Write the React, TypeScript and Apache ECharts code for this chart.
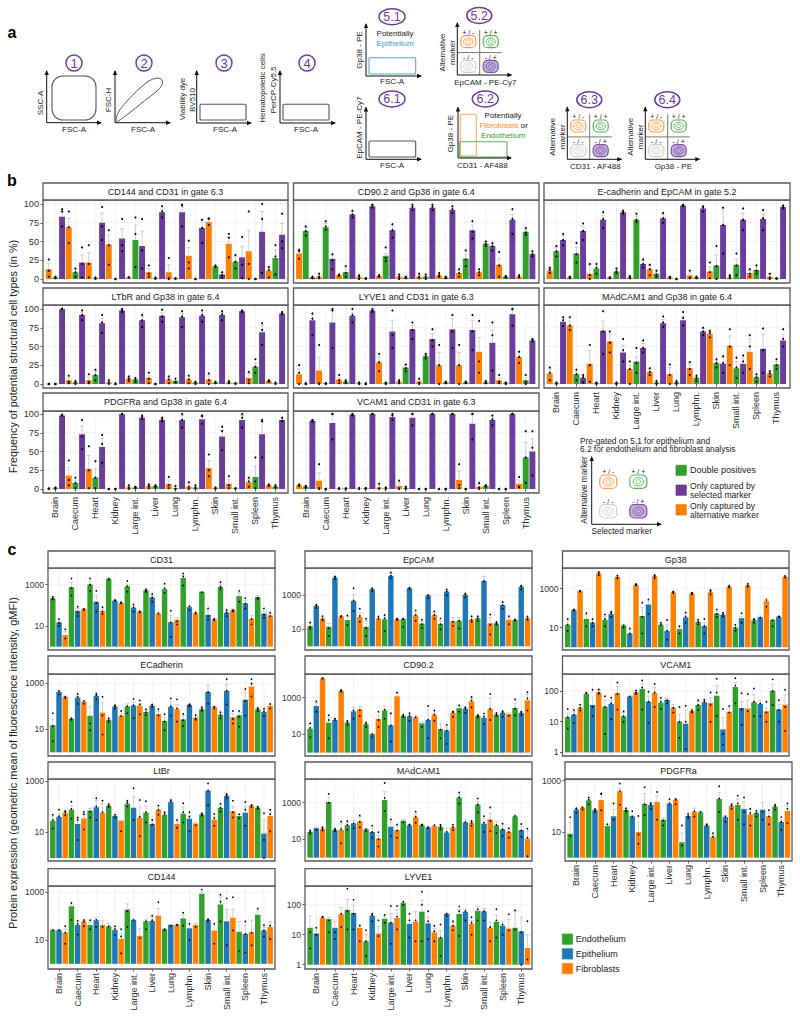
import React, { useEffect, useRef } from "react";
import * as echarts from "echarts";

const categories = ["Brain", "Caecum", "Heart", "Kidney", "Large int.", "Liver", "Lung", "Lymphn.", "Skin", "Small int.", "Spleen", "Thymus"];
const bSeriesNames = ["Only captured by alternative marker", "Double positives", "Only captured by selected marker"];
const cSeriesNames = ["Endothelium", "Epithelium", "Fibroblasts"];
const PURPLE = "#6A3D9A", GREEN = "#33A02C", ORANGE = "#FF7F00", BLUE = "#1F78B4";

// ---- panel b: per tissue, alternative / double / selected (in %)
const cd144Vals = [13,2,83, 69,9,22, 22,1,75, 46,0,54, 2,52,44, 9,1,89, 9,1,89, 31,0,68, 76,17,6, 47,23,29, 37,0,63, 11,28,59];
const cd144Err = [21,3,90, 81,13,32, 35,2,88, 59,0,67, 2,72,64, 14,2,93, 19,1,96, 42,0,78, 80,17,9, 56,30,43, 65,0,90, 15,39,74];
const cd144Hi = [26,3,93, 90,14,42, 45,2,96, 65,0,80, 2,82,80, 18,2,97, 28,1,99, 51,0,79, 81,18,9, 60,32,56, 90,0,100, 16,45,87];
const cd144Mid = [11,2,90, 69,9,20, 20,1,70, 45,0,45, 2,60,38, 7,1,90, 1,1,98, 22,0,68, 80,16,5, 55,23,19, 20,0,80, 12,30,50];
const cd144Lo = [3,1,70, 48,3,2, 2,0,52, 19,0,37, 2,16,14, 3,0,82, 0,0,70, 14,0,48, 72,16,2, 29,14,1, 0,0,8, 2,6,41];

const cd90Vals = [34,64,2, 3,69,27, 5,9,86, 3,1,97, 4,31,65, 3,2,95, 3,3,95, 5,2,92, 8,27,65, 9,47,44, 19,3,79, 3,63,33];
const cd90Err = [38,69,2, 5,74,32, 6,13,90, 4,1,99, 5,34,71, 5,3,97, 5,4,97, 7,3,95, 11,33,72, 11,50,47, 28,3,86, 4,66,35];
const cd90Hi = [39,70,3, 7,77,33, 6,17,91, 5,1,99, 5,42,73, 6,3,99, 7,6,99, 8,3,97, 13,38,77, 13,50,48, 36,4,93, 5,68,37];
const cd90Mid = [37,64,2, 3,70,25, 5,8,86, 3,1,98, 4,28,65, 3,2,96, 3,3,96, 5,2,93, 8,26,63, 9,47,44, 18,3,80, 3,62,33];
const cd90Lo = [27,58,1, 1,66,13, 4,3,82, 0,0,95, 3,24,55, 0,1,92, 1,0,92, 3,1,88, 3,17,54, 5,44,38, 3,2,60, 2,59,30];

const ecadVals = [11,37,52, 2,34,64, 7,14,79, 2,10,89, 2,79,20, 13,7,81, 2,0,98, 5,2,94, 10,18,72, 2,19,79, 8,12,80, 3,1,96];
const ecadErr = [14,42,58, 3,42,70, 19,18,85, 2,12,91, 3,84,24, 18,9,86, 3,0,99, 8,3,96, 16,32,93, 4,27,88, 11,15,86, 7,1,98];
const ecadHi = [15,44,60, 3,48,74, 20,20,89, 2,14,91, 4,87,26, 19,11,88, 3,0,99, 11,3,97, 22,44,95, 5,34,94, 13,18,92, 7,1,98];
const ecadMid = [12,37,52, 2,33,64, 5,15,80, 2,10,89, 2,79,20, 13,6,81, 2,0,98, 2,2,95, 9,17,72, 3,18,79, 7,11,81, 2,1,96];
const ecadLo = [8,30,45, 1,22,52, 0,7,68, 1,8,87, 1,76,15, 5,3,75, 1,0,97, 1,1,90, 1,0,34, 1,5,65, 3,7,65, 0,0,94];

const ltbrVals = [0,0,100, 5,2,92, 5,12,81, 2,0,98, 7,6,85, 8,0,91, 6,4,89, 6,2,91, 6,2,92, 2,1,97, 8,23,69, 4,1,94];
const ltbrErr = [0,0,100, 8,3,95, 9,17,88, 3,0,99, 9,7,90, 11,0,95, 8,5,94, 8,2,95, 11,2,95, 3,1,98, 14,28,78, 5,1,95];
const ltbrHi = [0,0,100, 11,4,98, 13,19,92, 5,1,100, 10,8,92, 15,0,99, 10,7,97, 11,3,98, 14,3,97, 4,1,98, 16,33,81, 5,2,96];
const ltbrMid = [0,0,100, 3,2,92, 3,12,82, 2,0,98, 7,6,85, 7,0,90, 6,3,90, 6,2,92, 5,2,93, 2,1,97, 5,23,72, 4,1,94];
const ltbrLo = [0,0,100, 1,0,85, 1,5,68, 0,0,96, 4,3,76, 1,0,83, 1,2,76, 1,0,83, 0,1,85, 1,0,96, 1,15,52, 3,0,93];

const lyveVals = [13,0,85, 18,1,82, 6,3,91, 1,0,98, 29,1,70, 3,22,73, 3,37,60, 25,2,73, 25,2,72, 43,2,55, 5,1,93, 36,5,58];
const lyveErr = [20,0,92, 35,1,98, 8,4,95, 2,0,99, 36,2,85, 4,25,78, 5,40,67, 42,3,87, 42,3,85, 62,3,72, 8,2,98, 43,8,59];
const lyveHi = [25,1,94, 52,1,100, 12,5,100, 2,1,100, 40,2,98, 5,26,82, 7,40,73, 52,3,92, 52,3,92, 84,4,82, 12,2,100, 43,12,60];
const lyveMid = [15,0,87, 0,1,98, 5,3,92, 1,0,98, 29,1,65, 3,21,72, 2,37,58, 25,2,70, 25,2,70, 30,2,65, 3,1,100, 36,3,59];
const lyveLo = [0,0,65, 1,0,48, 1,1,82, 0,0,96, 17,0,48, 1,17,60, 0,34,50, 0,1,48, 0,1,45, 15,1,18, 1,0,78, 28,0,57];

const madVals = [14,1,83, 78,13,8, 27,1,71, 57,1,42, 20,30,48, 16,2,81, 13,2,85, 21,8,70, 67,28,27, 51,21,27, 43,9,47, 14,26,58];
const madErr = [20,1,88, 84,16,11, 45,2,84, 67,2,52, 25,36,54, 19,3,86, 22,3,90, 26,10,74, 70,32,35, 64,30,35, 60,11,66, 15,30,66];
const madHi = [22,2,89, 89,19,12, 52,2,97, 70,2,60, 30,48,58, 21,4,90, 26,4,96, 29,11,75, 71,33,37, 73,35,38, 65,13,74, 17,33,73];
const madMid = [15,1,85, 78,13,9, 25,1,70, 55,0,45, 20,28,48, 16,1,82, 12,2,88, 20,8,70, 68,28,28, 50,22,30, 50,9,45, 14,25,60];
const madLo = [5,0,77, 72,5,2, 3,0,40, 42,0,30, 0,15,42, 12,0,76, 0,0,78, 12,4,65, 62,22,15, 25,8,15, 20,3,15, 10,20,50];

const pdgfVals = [0,1,98, 18,8,73, 27,15,56, 0,0,100, 2,2,95, 4,4,92, 7,1,92, 3,2,93, 28,1,70, 7,1,92, 9,16,73, 5,3,92];
const pdgfErr = [0,2,99, 29,11,84, 45,27,68, 0,0,100, 4,3,97, 6,5,94, 12,3,98, 7,3,97, 38,2,78, 13,1,98, 13,31,90, 6,4,94];
const pdgfHi = [1,2,99, 38,15,92, 57,37,72, 0,0,100, 5,3,98, 6,5,95, 16,4,100, 9,5,98, 46,2,83, 17,1,100, 15,42,92, 6,5,95];
const pdgfMid = [0,1,98, 12,8,70, 25,15,60, 0,0,100, 2,2,96, 4,4,93, 5,0,92, 3,2,97, 25,1,77, 5,1,95, 10,10,90, 5,3,91];
const pdgfLo = [0,0,98, 5,1,53, 1,1,35, 0,0,100, 0,1,93, 1,2,90, 1,0,82, 0,0,87, 17,0,52, 1,0,82, 3,1,42, 4,2,90];

const vcamBVals = [5,3,91, 11,0,88, 1,1,99, 1,1,100, 2,1,96, 4,1,95, 0,0,100, 0,0,100, 12,0,87, 3,4,92, 0,0,100, 7,42,50];
const vcamBErr = [6,3,92, 22,0,99, 1,1,100, 1,1,100, 5,1,99, 8,3,99, 0,0,100, 0,0,100, 24,0,99, 6,5,97, 0,0,100, 12,62,67];
const vcamBHi = [6,4,92, 33,0,100, 1,1,100, 1,1,100, 7,2,100, 11,3,100, 0,0,100, 0,0,100, 33,0,100, 8,5,98, 0,0,100, 16,77,77];
const vcamBMid = [5,3,91, 1,0,100, 1,0,99, 1,1,100, 1,1,98, 1,1,100, 0,0,100, 0,0,100, 5,0,100, 2,4,93, 0,0,100, 3,42,55];
const vcamBLo = [4,2,90, 0,0,66, 0,0,98, 0,0,100, 0,0,92, 0,0,85, 0,0,100, 0,0,100, 1,0,66, 0,3,85, 0,0,100, 2,8,18];

// ---- panel c: per tissue, endothelium / epithelium / fibroblasts (gMFI)
const cd31Vals = [220,15,3.7, 750,55,66, 1000,150,53, 1900,170,130, 830,77,50, 530,240,40, 600,15,20, 2100,83,42, 460,35,21, 770,44,60, 280,125,22, 250,40,33];
const cd31Err = [240,18,5.3, 1300,70,70, 1500,300,65, 2200,175,135, 1050,90,55, 570,300,47, 750,33,24, 2800,85,43, 470,55,22, 1000,52,65, 400,170,32, 300,50,38];
const cd31Hi = [260,22,7, 2000,85,72, 2000,500,80, 2800,175,140, 1500,110,58, 600,350,58, 1100,55,28, 3500,90,45, 480,70,22, 1300,60,72, 500,220,42, 420,70,44];
const cd31Mid = [210,14,3.2, 700,45,66, 1000,130,50, 1900,170,130, 850,80,50, 530,240,40, 650,15,17, 2500,88,42, 470,30,21, 800,45,60, 280,120,22, 230,35,30];
const cd31Lo = [190,10,2.5, 300,30,60, 500,50,38, 1800,170,125, 450,50,45, 450,150,28, 400,3,12, 900,60,40, 430,20,19, 600,30,50, 150,70,12, 200,25,28];

const epcamVals = [15,235,42, 14,11000,58, 35,465,53, 14,2250,42, 39,14000,39, 40,2600,67, 22,1000,70, 21,1650,30, 32,1050,37, 44,7000,23, 22,270,37, 35,3100,44];
const epcamErr = [24,260,50, 22,12500,60, 55,1100,95, 32,2500,46, 62,20000,42, 42,2700,100, 30,1100,90, 33,2000,50, 50,1250,50, 55,13000,50, 26,370,50, 37,3500,48];
const epcamHi = [25,280,58, 30,13000,62, 65,2600,160, 42,2500,56, 70,22000,42, 42,2800,130, 36,1150,110, 44,2200,62, 62,1300,58, 58,15000,75, 27,400,58, 38,3700,56];
const epcamMid = [14,250,40, 12,12000,60, 30,500,60, 12,2400,42, 45,14000,38, 40,2700,70, 20,1000,70, 20,1700,28, 32,1100,36, 45,7000,18, 22,260,35, 35,3300,42];
const epcamLo = [11,180,33, 4,9000,55, 18,120,28, 4,1800,30, 8,10000,36, 14,2300,32, 12,700,42, 10,1000,16, 11,750,28, 32,3500,5, 19,160,20, 33,2200,36];

const gp38Vals = [14,80,750, 28,18,5900, 25,50,4000, 13,5,1600, 40,156,4300, 14,6.7,650, 8.5,34,570, 20,12,650, 54,46,1260, 10,31,1480, 24,34,230, 25,37,4100];
const gp38Err = [22,85,760, 45,25,6800, 38,60,4400, 15,7.5,1700, 110,220,4800, 16,14,700, 11,55,600, 24,18,800, 70,52,1350, 12,38,1600, 27,40,320, 27,38,4300];
const gp38Hi = [28,85,780, 55,28,7200, 48,65,4800, 17,9,1750, 190,280,5000, 18,25,720, 12,60,620, 26,28,850, 85,58,1400, 14,55,1800, 28,42,420, 30,38,4500];
const gp38Mid = [14,80,750, 30,18,6200, 28,55,3800, 13,5,1600, 35,170,4400, 14,7,650, 8,38,580, 20,12,700, 50,48,1250, 10,30,1400, 25,32,260, 24,37,4200];
const gp38Lo = [7,75,720, 12,12,5000, 12,35,3400, 10,3,1500, 5,50,3500, 11,2.5,600, 5,18,520, 15,5,500, 35,38,1150, 7,18,1250, 18,30,120, 12,36,3700];

const ecadCVals = [15,420,260, 28,240,155, 39,280,53, 25,97,39, 97,107,107, 57,107,46, 23,94,74, 27,114,31, 74,420,94, 42,465,34, 41,195,720, 74,57,103];
const ecadCErr = [28,460,280, 29,280,165, 95,310,140, 27,105,50, 130,150,130, 70,115,60, 35,150,120, 38,120,36, 85,850,100, 50,900,48, 55,460,1100, 80,70,115];
const ecadCHi = [50,540,290, 30,340,170, 160,350,260, 30,110,62, 160,210,180, 75,120,75, 45,220,200, 46,122,42, 90,1450,105, 55,1500,62, 62,560,1500, 85,78,125];
const ecadCMid = [14,460,260, 28,260,160, 18,300,40, 25,100,38, 100,110,120, 55,110,40, 22,100,80, 25,118,30, 75,420,95, 42,480,28, 35,170,950, 75,60,105];
const ecadCLo = [3,330,230, 26,130,130, 9,200,6, 21,80,24, 50,30,45, 42,90,24, 9,40,22, 14,100,26, 62,130,80, 30,120,18, 13,40,270, 62,38,80];

const cd90Vals2 = [20,350,11300, 43,60,2400, 43,180,230, 35,10,70, 200,31,1200, 100,95,85, 40,60,118, 19,16,150, 270,250,630, 100,80,240, 118,150,130, 270,145,720];
const cd90Err2 = [38,500,11800, 85,70,2500, 50,300,330, 40,11,110, 350,120,1800, 110,115,105, 48,220,160, 40,24,170, 330,280,900, 110,105,950, 130,170,150, 500,160,1500];
const cd90Hi2 = [40,620,12000, 110,72,2600, 55,420,420, 44,13,170, 520,140,1900, 118,140,125, 52,350,200, 52,32,175, 380,300,1100, 115,135,1600, 145,185,165, 800,170,2000];
const cd90Mid2 = [22,420,11000, 60,60,2500, 45,200,210, 35,10,60, 220,30,1300, 100,100,85, 42,62,120, 18,16,160, 270,260,700, 100,90,250, 118,160,130, 260,150,900];
const cd90Lo2 = [7,170,10500, 6,50,2100, 32,70,100, 25,7,25, 70,4,500, 85,55,50, 25,6,55, 6,3,90, 170,150,300, 85,35,60, 100,90,100, 110,110,200];

const vcamCVals = [14,17,29, 80,35,90, 31,38,86, 15,67,90, 116,45,86, 42,51,29, 10,8.6,22, 35,43,41, 70,5.6,21, 135,28,27, 43,38,22, 100,25,36];
const vcamCErr = [19,21,35, 85,60,110, 50,50,140, 20,68,100, 170,65,130, 55,60,37, 18,23,23, 45,50,60, 150,13.5,27, 190,45,50, 75,50,28, 170,37,75];
const vcamCHi = [26,24,36, 88,110,112, 68,60,190, 22,70,105, 220,95,170, 60,65,42, 30,33,24, 50,52,90, 250,26,32, 260,85,80, 120,65,45, 240,50,110];
const vcamCMid = [14,17,28, 85,30,88, 30,40,80, 15,66,90, 130,45,90, 45,50,28, 10,10,21, 35,45,35, 90,4,20, 150,25,22, 45,40,20, 100,24,30];
const vcamCLo = [6,9,23, 70,15,82, 4,12,25, 10,65,80, 25,9,30, 26,40,20, 3,1.3,20, 24,34,10, 15,1.8,16, 40,8,7, 15,15,10, 35,10,5];

const ltbrCVals = [28,40,58, 76,21,35, 70,94,57, 106,43,28, 130,91,37, 57,21,75, 47,150,21, 53,34,22, 49,407,31, 89,260,66, 43,58,106, 89,9,43];
const ltbrCErr = [43,55,65, 110,35,50, 85,170,130, 115,46,30, 155,240,95, 105,24,95, 55,165,26, 95,44,24, 52,430,42, 115,280,100, 50,100,110, 95,30,58];
const ltbrCHi = [48,75,68, 155,38,62, 120,210,170, 125,48,32, 170,520,180, 160,30,110, 60,180,30, 135,60,25, 55,800,52, 130,310,170, 50,150,115, 98,55,75];
const ltbrCMid = [30,42,60, 80,30,50, 65,100,60, 110,45,28, 140,120,40, 60,20,75, 50,160,22, 60,40,22, 50,420,35, 90,270,60, 45,75,110, 90,5,50];
const ltbrCLo = [14,12,46, 34,5,13, 38,30,12, 96,38,11, 100,30,7, 24,12,48, 32,120,15, 24,11,19, 44,110,18, 65,210,38, 35,18,95, 82,1,11];

const madCVals = [25,41,37, 1090,32,32, 58,74,96, 35,25,11, 1400,49,32, 104,58,160, 60,45,53, 47,23,45, 1900,85,78, 780,72,123, 58,35,25, 180,32,11];
const madCErr = [28,48,42, 2000,36,75, 80,105,170, 40,40,17, 4000,85,55, 120,62,220, 62,48,55, 55,40,55, 2800,110,90, 1200,130,260, 100,55,32, 220,52,27];
const madCHi = [30,52,45, 3000,38,95, 100,130,200, 42,55,24, 12000,120,65, 130,64,320, 65,50,58, 62,50,62, 3600,125,100, 1700,180,550, 130,70,40, 270,68,38];
const madCMid = [25,42,38, 1000,32,35, 60,75,90, 36,25,10, 1800,50,30, 105,58,170, 60,45,52, 48,25,45, 2000,85,80, 800,80,100, 60,35,25, 190,30,12];
const madCLo = [20,32,30, 500,28,6, 33,40,45, 28,12,4, 350,15,12, 85,52,80, 58,40,50, 35,5,32, 900,50,55, 300,25,28, 22,15,12, 130,14,1.2];

const pdgfCVals = [8.6,74,89, 170,70,175, 17,41,385, 72,41,10, 123,113,148, 30,127,175, 4,42,62, 58,17.6,6.4, 192,38,103, 113,79,49, 55,74,41, 97,24.5,66];
const pdgfCErr = [23,82,100, 195,75,300, 19,75,520, 80,42,24, 310,125,260, 35,150,185, 9,48,85, 62,19,7.5, 350,44,112, 190,150,75, 62,140,55, 105,30,105];
const pdgfCHi = [38,85,110, 220,78,320, 20,130,780, 85,65,42, 550,135,360, 48,190,195, 18,52,110, 110,20,9, 600,50,120, 260,220,80, 68,330,70, 115,38,130];
const pdgfCMid = [7,78,90, 180,72,300, 16,30,400, 70,40,8, 120,115,160, 28,130,180, 3,42,65, 60,18,6.5, 200,40,105, 130,60,55, 55,60,40, 100,25,80];
const pdgfCLo = [1.5,55,75, 120,60,70, 15,11,115, 62,15,3.5, 45,80,30, 18,50,120, 1.5,35,40, 34,15,5, 60,25,80, 30,20,18, 40,30,20, 75,12,22];

const cd144CVals = [26,26,20, 260,43,59, 43,67,43, 37,26,11, 190,69,15, 61,63,105, 28,43,44, 81,31,43, 880,69,25, 310,61,87, 22,18,21, 115,25,35];
const cd144CErr = [28,28,29, 300,60,65, 55,85,65, 50,32,18, 330,75,30, 75,85,210, 30,45,46, 110,42,50, 1050,72,42, 650,190,200, 60,40,65, 180,34,60];
const cd144CHi = [30,30,38, 360,65,70, 68,100,85, 55,38,28, 520,85,85, 90,105,380, 30,45,46, 140,48,52, 1300,75,48, 800,550,620, 120,60,90, 210,42,85];
const cd144CMid = [26,26,20, 300,48,60, 45,70,35, 38,28,14, 160,70,12, 62,68,100, 28,43,44, 85,30,45, 950,68,22, 400,45,90, 15,18,20, 120,25,40];
const cd144CLo = [22,22,7, 70,17,38, 28,35,32, 22,16,2.8, 35,55,5, 28,30,22, 26,40,42, 40,10,35, 500,62,7, 60,6,25, 3.5,3,6, 80,14,11];

const lyveCVals = [17,11,37, 33,17,48, 68,53,17, 6,43,11, 34,25,36, 113,23,27, 59,24,12, 8,50,20, 49,58,23, 63,60,17, 27,20,16, 17,13,3.6];
const lyveCErr = [42,14,39, 38,28,80, 150,95,22, 10,46,19, 42,50,70, 120,34,60, 140,38,16, 14,52,25, 72,70,30, 90,75,26, 45,28,32, 60,38,10];
const lyveCHi = [95,17,40, 62,85,115, 340,145,32, 14,50,30, 45,90,90, 125,50,62, 270,60,20, 22,53,28, 88,85,38, 120,85,35, 70,35,48, 65,85,28];
const lyveCMid = [12,10,38, 30,12,50, 60,50,20, 6,45,9, 35,25,40, 115,30,30, 100,28,13, 8,50,20, 60,60,25, 70,60,18, 30,22,14, 15,12,1.5];
const lyveCLo = [3.5,4,32, 12,7,18, 15,15,6, 2,28,4, 25,5,15, 100,8,6, 6,7,6, 2,42,14, 9,30,10, 30,30,6, 8,10,4.5, 1.2,1,1.1];

const bTicks = [0, 25, 50, 75, 100];
const bMinor = [12.5, 37.5, 62.5, 87.5];
const font = "'Liberation Sans', Arial, sans-serif";
const LABEL = "#333333";

type AnyObj = Record<string, any>;
const grids: AnyObj[] = [], xAxes: AnyObj[] = [], yAxes: AnyObj[] = [], series: AnyObj[] = [], gfx: AnyObj[] = [];

const gridItem = (pad: number) => (params: any, api: any) => {
  const cs = params.coordSys;
  const kind = api.value(2);
  if (kind === 2) {
    const x = api.coord([api.value(0), api.value(1)])[0];
    return { type: "line", silent: true, shape: { x1: x, y1: cs.y, x2: x, y2: cs.y + cs.height }, style: { stroke: "#ececec", lineWidth: 0.7 } };
  }
  const y = api.coord([0, api.value(1)])[1];
  return { type: "line", silent: true, shape: { x1: cs.x - pad, y1: y, x2: cs.x + cs.width + pad, y2: y }, style: { stroke: kind === 1 ? "#ececec" : "#f5f5f5", lineWidth: kind === 1 ? 0.7 : 0.5 } };
};

function txt(text: string, x: number, y: number, size: number, o: AnyObj = {}) {
  gfx.push({
    type: "text", x, y, rotation: o.rot ? Math.PI / 2 : 0, silent: true, z: 50,
    style: { text, font: `${o.bold ? "bold " : ""}${size}px ${font}`, fill: o.fill || "#222", textAlign: o.align || "center", textVerticalAlign: "middle", align: o.align || "center", verticalAlign: "middle" },
  });
}
function rectG(x: number, y: number, w: number, h: number, stroke: string, fill = "none", lw = 1, r = 0, z = 40) {
  gfx.push({ type: "rect", silent: true, z, shape: { x, y, width: w, height: h, r }, style: { stroke, fill, lineWidth: lw } });
}

type PanelOpt = {
  title: string; vals: number[]; err: number[]; hi: number[]; mid: number[]; lo: number[];
  names: string[]; colors: string[]; panel: [number, number, number, number, number]; // left,right,stripTop,stripBottom,bottom
  plotLeft: number; step: number; barW: number; log: boolean;
  yMin: number; yMax: number; ticks: number[]; minor: number[];
  showY: boolean; showX: boolean; labelSize: number; yLabelSize: number; dotR: number;
};

function addPanel(p: PanelOpt) {
  const idx = grids.length;
  const [l, r, st, sb, bot] = p.panel;
  const plotW = p.step * 36;
  grids.push({ left: p.plotLeft, width: plotW, top: sb, height: bot - sb, containLabel: false });
  xAxes.push({
    type: "category", gridIndex: idx, data: categories, boundaryGap: true,
    axisLine: { show: false },
    axisTick: { show: p.showX, alignWithLabel: true, length: 2.5, lineStyle: { color: LABEL, width: 0.8 } },
    axisLabel: { show: p.showX, interval: 0, rotate: 90, fontFamily: font, fontSize: p.labelSize, color: LABEL, margin: 4 },
    splitLine: { show: false },
  });
  yAxes.push({
    type: p.log ? "log" : "value", logBase: 10, gridIndex: idx, min: p.yMin, max: p.yMax,
    offset: p.plotLeft - l, axisLine: { show: false },
    axisTick: { show: p.showY, customValues: p.ticks, length: 2.5, lineStyle: { color: LABEL, width: 0.8 } },
    axisLabel: { show: p.showY, customValues: p.ticks, fontFamily: font, fontSize: p.yLabelSize, color: LABEL, margin: 4, formatter: (v: number) => String(Math.round(v)) },
    splitLine: { show: false }, minorSplitLine: { show: false },
  });
  const pad = Math.max(p.plotLeft - l, r - p.plotLeft - plotW);
  const gridData: number[][] = [];
  p.ticks.forEach((v) => gridData.push([0, v, 1]));
  p.minor.forEach((v) => gridData.push([0, v, 0]));
  categories.forEach((_, i) => gridData.push([i, p.ticks[0], 2]));
  series.push({ type: "custom", name: "grid", xAxisIndex: idx, yAxisIndex: idx, silent: true, z: 0, clip: false, data: gridData, renderItem: gridItem(pad) });
  [0, 1, 2].forEach((k) => {
    series.push({
      type: "bar", name: p.names[k], xAxisIndex: idx, yAxisIndex: idx, z: 2, silent: true,
      barWidth: p.barW, barGap: `${((p.step - p.barW) / p.barW) * 100}%`,
      itemStyle: { color: p.colors[k] },
      data: categories.map((_, i) => p.vals[i * 3 + k]),
    });
  });
  const items: number[][] = [];
  p.vals.forEach((v, j) => items.push([Math.floor(j / 3), v, j % 3, p.err[j]]));
  series.push({
    type: "custom", name: "error", xAxisIndex: idx, yAxisIndex: idx, silent: true, z: 3, clip: false, data: items,
    renderItem: (_: any, api: any) => {
      const cat = api.value(0), k = api.value(2);
      const a = api.coord([cat, api.value(1)]), b = api.coord([cat, api.value(3)]);
      const x = a[0] + (k - 1) * p.step;
      const st2 = { stroke: "#c9c9c9", lineWidth: 0.9 };
      return { type: "group", children: [
        { type: "line", shape: { x1: x, y1: a[1], x2: x, y2: b[1] }, style: st2 },
        { type: "line", shape: { x1: x - 2, y1: b[1], x2: x + 2, y2: b[1] }, style: st2 },
      ] };
    },
  });
  const dots: number[][] = [];
  [p.hi, p.mid, p.lo].forEach((arr) => arr.forEach((v, j) => dots.push([Math.floor(j / 3), v, j % 3])));
  series.push({
    type: "custom", name: "dots", xAxisIndex: idx, yAxisIndex: idx, silent: true, z: 4, clip: false, data: dots,
    renderItem: (_: any, api: any) => {
      const c = api.coord([api.value(0), api.value(1)]);
      return { type: "circle", shape: { cx: c[0] + (api.value(2) - 1) * p.step, cy: c[1], r: p.dotR }, style: { fill: "#000" } };
    },
  });
  rectG(l, sb, r - l, bot - sb, "#5a5a5a", "none", 1.3);
  rectG(l, st, r - l, sb - st, "#5a5a5a", "#fff", 1.3);
  txt(p.title, (l + r) / 2, (st + sb) / 2, 9);
}

// panel b layout
const bCols: [number, number, number][] = [[43, 288, 45.4], [293.5, 539, 295.7], [544, 790, 546.4]];
const bRows: [number, number, number, number][] = [[183, 200, 204, 279], [288, 305, 309, 384], [393, 411, 414, 489]];
const bPanels: [string, number[], number[], number[], number[], number[], number, number][] = [
  ["CD144 and CD31 in gate 6.3", cd144Vals, cd144Err, cd144Hi, cd144Mid, cd144Lo, 0, 0],
  ["CD90.2 and Gp38 in gate 6.4", cd90Vals, cd90Err, cd90Hi, cd90Mid, cd90Lo, 1, 0],
  ["E-cadherin and EpCAM in gate 5.2", ecadVals, ecadErr, ecadHi, ecadMid, ecadLo, 2, 0],
  ["LTbR and Gp38 in gate 6.4", ltbrVals, ltbrErr, ltbrHi, ltbrMid, ltbrLo, 0, 1],
  ["LYVE1 and CD31 in gate 6.3", lyveVals, lyveErr, lyveHi, lyveMid, lyveLo, 1, 1],
  ["MAdCAM1 and Gp38 in gate 6.4", madVals, madErr, madHi, madMid, madLo, 2, 1],
  ["PDGFRa and Gp38 in gate 6.4", pdgfVals, pdgfErr, pdgfHi, pdgfMid, pdgfLo, 0, 2],
  ["VCAM1 and CD31 in gate 6.3", vcamBVals, vcamBErr, vcamBHi, vcamBMid, vcamBLo, 1, 2],
];
bPanels.forEach(([title, vals, err, hi, mid, lo, c, rw]) => {
  const [l, r, pl] = bCols[c];
  const [st, sb, y100, y0] = bRows[rw];
  const ppu = (y0 - y100) / 100;
  addPanel({
    title, vals, err, hi, mid, lo, names: bSeriesNames, colors: [ORANGE, GREEN, PURPLE],
    panel: [l, r, st, sb, y0 + 4], plotLeft: pl, step: 6.667, barW: 5.95, log: false,
    yMin: -4 / ppu, yMax: (y0 - sb) / ppu, ticks: bTicks, minor: bMinor,
    showY: c === 0, showX: rw === 2 || (c === 2 && rw === 1), labelSize: 9, yLabelSize: 9.2, dotR: 1,
  });
});

// panel c layout: left,right,plotLeft / stripTop,stripBottom,bottom / y of 10, px per decade
const cPanels: [string, number[], number[], number[], number[], number[], number[], number, number, number, number, number, number, number][] = [
  ["CD31", cd31Vals, cd31Err, cd31Hi, cd31Mid, cd31Lo, [10, 1000], 48, 275, 49.7, 551, 568, 650, 626],
  ["EpCAM", epcamVals, epcamErr, epcamHi, epcamMid, epcamLo, [10, 1000], 305, 532, 307, 551, 568, 650, 629.3],
  ["Gp38", gp38Vals, gp38Err, gp38Hi, gp38Mid, gp38Lo, [10, 1000], 562.5, 789, 564.6, 551, 568, 650, 627.7],
  ["ECadherin", ecadCVals, ecadCErr, ecadCHi, ecadCMid, ecadCLo, [10, 1000], 48, 275, 49.7, 656, 674, 756, 729.3],
  ["CD90.2", cd90Vals2, cd90Err2, cd90Hi2, cd90Mid2, cd90Lo2, [10, 1000], 305, 532, 307, 656, 674, 756, 734.3],
  ["VCAM1", vcamCVals, vcamCErr, vcamCHi, vcamCMid, vcamCLo, [1, 10, 100], 562.5, 789, 564.6, 656, 674, 756, 721.7],
  ["LtBr", ltbrCVals, ltbrCErr, ltbrCHi, ltbrCMid, ltbrCLo, [10, 1000], 48, 275, 49.7, 762, 779, 861, 832.3],
  ["MAdCAM1", madCVals, madCErr, madCHi, madCMid, madCLo, [10, 1000], 305, 532, 307, 762, 779, 861, 839.3],
  ["PDGFRa", pdgfCVals, pdgfCErr, pdgfCHi, pdgfCMid, pdgfCLo, [10, 1000], 565, 792, 567, 762, 779, 861, 832],
  ["CD144", cd144CVals, cd144CErr, cd144CHi, cd144CMid, cd144CLo, [10, 1000], 48, 275, 49.7, 868.7, 886, 969, 940],
  ["LYVE1", lyveCVals, lyveCErr, lyveCHi, lyveCMid, lyveCLo, [1, 10, 100], 305, 532, 307, 868.7, 886, 969, 934.7],
];
const cDecade = [20.67, 17, 19.5, 23, 18.3, 30.67, 25.7, 18.3, 25.67, 23.83, 30];
cPanels.forEach(([title, vals, err, hi, mid, lo, ticks, l, r, pl, st, sb, bot, y10], i) => {
  const d = cDecade[i];
  const yMin = Math.pow(10, 1 + (y10 - bot) / d);
  const yMax = Math.pow(10, 1 + (y10 - sb) / d);
  const minor = ticks.length === 3 ? [3.16, 31.6] : [1, 100, 10000].filter((v) => v > yMin && v < yMax);
  addPanel({
    title, vals, err, hi, mid, lo, names: cSeriesNames, colors: [GREEN, BLUE, ORANGE],
    panel: [l, r, st, sb, bot], plotLeft: pl, step: 6.21, barW: 5.45, log: true,
    yMin, yMax, ticks, minor, showY: true, showX: i >= 8, labelSize: 9, yLabelSize: 8.6, dotR: 0.85,
  });
});

// ---- text & schematic parts
const arrowAxes = (x: number, y: number, top: number, right: number) => {
  gfx.push({ type: "polyline", silent: true, z: 41, shape: { points: [[x, top], [x, y], [right, y]] }, style: { stroke: "#111", fill: "none", lineWidth: 1 } });
  gfx.push({ type: "polygon", silent: true, z: 41, shape: { points: [[x - 2.2, top + 4], [x, top - 1], [x + 2.2, top + 4]] }, style: { fill: "#111" } });
  gfx.push({ type: "polygon", silent: true, z: 41, shape: { points: [[right - 4, y - 2.2], [right + 1, y], [right - 4, y + 2.2]] }, style: { fill: "#111" } });
};
const badge = (label: string, cx: number, cy: number, rx: number, ry: number) => {
  gfx.push({ type: "ellipse", silent: true, z: 41, shape: { cx, cy, rx, ry }, style: { stroke: PURPLE, fill: "#fff", lineWidth: 1.5 } });
  txt(label, cx, cy, label.length > 1 ? 12.5 : 13, { fill: PURPLE });
};
const blob = (cx: number, cy: number, color: string, rx = 7.5, ry = 6, fill = "none") => {
  rectG(cx - rx, cy - ry, rx * 2, ry * 2, color, fill, 1.2, 4.5, 41);
  gfx.push({ type: "ellipse", silent: true, z: 42, shape: { cx, cy, rx: rx * 0.62, ry: ry * 0.62 }, style: { stroke: color, fill: "none", lineWidth: 0.9 } });
  gfx.push({ type: "ellipse", silent: true, z: 42, shape: { cx, cy, rx: rx * 0.3, ry: ry * 0.3 }, style: { stroke: color, fill: "none", lineWidth: 0.8 } });
};
const quadrants = (ox: number, oy: number, yLabelGap: [number, number], xLabel: string, badgeLabel: string) => {
  arrowAxes(ox, oy, oy - 52, ox + 54);
  const vx = ox + 22.4, hy = oy - 22.4;
  gfx.push({ type: "line", silent: true, z: 40, shape: { x1: vx, y1: oy - 45, x2: vx, y2: oy }, style: { stroke: "#777", lineWidth: 1 } });
  gfx.push({ type: "line", silent: true, z: 40, shape: { x1: ox, y1: hy, x2: ox + 44.5, y2: hy }, style: { stroke: "#777", lineWidth: 1 } });
  const xa = ox + 11, xb = ox + 33.4, ya = oy - 33.3, yb = oy - 8.7;
  blob(xa, ya, "#FF9A3C"); blob(xb, ya, "#55B355"); blob(xa, yb, "#cfcfcf"); blob(xb, yb, "#7B52AB", 7.5, 6, "rgba(123,82,171,.45)");
  txt("+ / -", xa, oy - 42.7, 7); txt("+ / +", xb, oy - 42.7, 7); txt("- / -", xa, oy - 18, 7); txt("- / +", xb, oy - 18, 7);
  txt("Alternative", ox + yLabelGap[0], oy - 22.5, 8, { rot: true });
  txt("marker", ox + yLabelGap[1], oy - 22.5, 8, { rot: true });
  txt(xLabel, ox + 28, oy + 7, 8);
  badge(badgeLabel, ox + 22, oy - 59.5, 12.5, 8);
};

function buildSchematic() {
  txt("a", 12, 32.5, 16, { bold: true, fill: "#000" });
  txt("b", 12, 180, 16, { bold: true, fill: "#000" });
  txt("c", 12, 549, 16, { bold: true, fill: "#000" });
  txt("Frequency of potential structural cell types (in %)", 12.5, 356.5, 10.8, { rot: true });
  txt("Protein expression (geometric mean of fluorescence intensity, gMFI)", 12.5, 763, 11, { rot: true });

  // gates 1-4
  arrowAxes(46.7, 122.7, 71, 101);
  rectG(52, 76, 44, 44, "#555", "none", 1.1, 11);
  badge("1", 74, 63, 8, 8);
  txt("FSC-A", 74, 129.7, 8); txt("SSC-A", 40.7, 103, 8, { rot: true });
  arrowAxes(115, 122.7, 71, 170);
  gfx.push({ type: "polygon", silent: true, z: 41, shape: { points: [[116.5, 121.5], [118, 113], [128, 100], [146, 83], [155, 78.5], [161, 79], [162.5, 83.5], [158, 90], [143, 102], [128, 114]], smooth: 0.35 }, style: { stroke: "#555", fill: "none", lineWidth: 1 } });
  badge("2", 144, 63, 8, 8);
  txt("FSC-A", 143, 129.7, 8); txt("FSC-H", 108, 100, 8, { rot: true });
  arrowAxes(196.7, 123, 71, 251);
  rectG(200, 104.3, 46, 15.7, "#555", "none", 1.1, 1);
  badge("3", 224, 63, 8, 8);
  txt("FSC-A", 225, 129.7, 8); txt("Viability dye", 182, 99, 8, { rot: true }); txt("BV510", 192, 100, 8, { rot: true });
  arrowAxes(280, 123, 71, 335);
  rectG(283, 104.3, 46, 15.7, "#555", "none", 1.1, 1);
  badge("4", 307, 63, 8, 8);
  txt("FSC-A", 306, 129.7, 8); txt("Hematopoietic cells", 262, 88, 8, { rot: true }); txt("PerCP-Cy5.5", 273, 90, 8, { rot: true });

  // 5.1 / 6.1
  arrowAxes(366, 76, 24, 421);
  rectG(369, 57.7, 46.7, 16.3, "#5BA7D9", "none", 1.1, 1);
  badge("5.1", 392, 16.7, 13, 8);
  txt("Potentially", 395, 33, 8); txt("Epithelium", 395, 43.5, 8, { fill: "#3D97D3" });
  txt("FSC-A", 392, 81.7, 8); txt("Gp38 - PE", 359, 50, 8, { rot: true });
  arrowAxes(366, 159.3, 107.5, 421);
  rectG(369, 141, 46.7, 16, "#555", "none", 1.1, 1);
  badge("6.1", 392, 99, 13, 8);
  txt("FSC-A", 392, 165.5, 8); txt("EpCAM - PE-Cy7", 359, 127.7, 8, { rot: true });

  // 6.2
  arrowAxes(458, 158, 107.5, 511);
  rectG(460.3, 114.3, 16, 41.7, "#FFA95A", "none", 1.1, 1);
  rectG(459.7, 141.7, 47.3, 15.3, "#55B355", "none", 1.1, 1);
  badge("6.2", 485.3, 99, 13, 8);
  txt("Potentially", 503, 115.7, 8);
  txt("Fibroblasts", 518.5, 125.7, 8, { fill: "#FF8A1E", align: "right" });
  txt("or", 520.7, 125.7, 8, { align: "left" });
  txt("Endothelium", 503.3, 135.7, 8, { fill: "#33A02C" });
  txt("CD31 - AF488", 482.3, 165.7, 8); txt("Gp38 - PE", 450.7, 133.7, 8, { rot: true });

  quadrants(457.3, 75, [-15.3, -5], "EpCAM - PE-Cy7", "5.2");
  quadrants(567.3, 159.3, [-15, -4.6], "CD31 - AF488", "6.3");
  quadrants(645.3, 159.3, [-15.3, -5.3], "Gp38 - PE", "6.4");

  // legend b
  txt("Pre-gated on 5.1 for epithelium and", 580, 440.7, 8.3, { align: "left" });
  txt("6.2 for endothelium and fibroblast analysis", 580, 449, 8.3, { align: "left" });
  arrowAxes(591.7, 524.3, 457, 661);
  txt("Alternative marker", 584.3, 490, 8.3, { rot: true });
  txt("Selected marker", 621.7, 531, 8.3);
  blob(608.3, 481.7, "#FF9A3C", 8.5, 6.7); blob(638.3, 481.7, "#55B355", 8.5, 6.7);
  blob(608.3, 511.3, "#cfcfcf", 8.5, 6.7); blob(638.3, 511.3, "#7B52AB", 8.5, 6.7, "rgba(123,82,171,.45)");
  txt("+ / -", 608.3, 471.3, 7); txt("+ / +", 638.3, 471.3, 7); txt("- / -", 608.3, 501, 7); txt("- / +", 638.3, 501, 7);
  rectG(676, 465.3, 10.3, 10, "#2a8a25", GREEN, 0.7, 0, 41);
  rectG(676, 485, 10.3, 10.3, "#5a3187", PURPLE, 0.7, 0, 41);
  rectG(676, 504.7, 10.3, 10.3, "#e57200", ORANGE, 0.7, 0, 41);
  txt("Double positives", 690, 470.3, 9, { align: "left" });
  txt("Only captured by", 690, 486.3, 8.6, { align: "left" });
  txt("selected marker", 690, 494.6, 8.6, { align: "left" });
  txt("Only captured by", 690, 506.3, 8.6, { align: "left" });
  txt("alternative marker", 690, 514.7, 8.6, { align: "left" });

  // legend c
  [GREEN, BLUE, ORANGE].forEach((c, i) => {
    rectG(562.3, 934 + i * 14.7, 10.3, 10.3, c, c, 0.7, 0, 41);
    txt(cSeriesNames[i], 575.7, 939 + i * 14.8, 9, { align: "left" });
  });
}
buildSchematic();

export default function App() {
  const ref = useRef<HTMLDivElement>(null);
  useEffect(() => {
    document.body.style.margin = "0";
    const chart = echarts.init(ref.current!, undefined, { renderer: "svg" });
    chart.setOption({
      animation: false, backgroundColor: "#fff", textStyle: { fontFamily: font },
      grid: grids, xAxis: xAxes, yAxis: yAxes, series, graphic: { elements: gfx },
    });
    return () => chart.dispose();
  }, []);
  return <div ref={ref} style={{ position: "absolute", left: 0, top: 0, width: 800, height: 1017, background: "#fff" }} />;
}
